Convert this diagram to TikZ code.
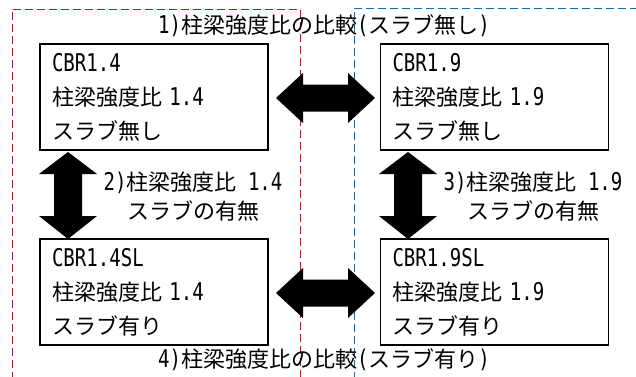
\documentclass[tikz,border=0pt]{standalone}
\usepackage{fontspec}
\setmainfont{Noto Sans CJK JP}
\newfontfamily\hwfont[Scale=1.11,FakeStretch=0.78]{DejaVu Sans Mono}
\newcommand{\hw}[1]{{\hwfont #1}}
\begin{document}
\begin{tikzpicture}[x=1pt,y=-1pt,
  box/.style={draw=black,line width=1.6pt,minimum width=228pt,minimum height=106pt,
    text width=204pt,inner xsep=12pt,inner ysep=0pt,align=left,
    font=\fontsize{22}{34}\selectfont},
  lbl/.style={align=center,inner sep=0pt,font=\fontsize{22}{29}\selectfont},
  blockarrow/.style={fill=black,draw=none},
  reddash/.style={draw={rgb,255:red,230;green,0;blue,18},line width=0.9pt,dash pattern=on 8pt off 4pt},
  bluedash/.style={draw={rgb,255:red,0;green,112;blue,192},line width=0.9pt,dash pattern=on 8pt off 4pt}]
\useasboundingbox (0,0) rectangle (636,376);
% dashed group frames
\draw[reddash] (12,380) -- (12,9) -- (300,9) -- (300,380);
\draw[bluedash] (354,380) -- (354,8) -- (640,8);
% boxes
\node[box] (tl) at (154,97) {\hw{CBR1.4}\\柱梁強度比\hw{ 1.4}\\スラブ無し};
\node[box] (tr) at (494.5,97) {\hw{CBR1.9}\\柱梁強度比\hw{ 1.9}\\スラブ無し};
\node[box] (bl) at (154,292) {\hw{CBR1.4SL}\\柱梁強度比\hw{ 1.4}\\スラブ有り};
\node[box] (br) at (494.5,292) {\hw{CBR1.9SL}\\柱梁強度比\hw{ 1.9}\\スラブ有り};
% block arrows
\fill[blockarrow] (276,98) -- (303,73) -- (303,84.5) -- (348,84.5) -- (348,73) -- (375,98)
  -- (348,123) -- (348,111.5) -- (303,111.5) -- (303,123) -- cycle;
\fill[blockarrow] (276,293) -- (303,268) -- (303,279.5) -- (348,279.5) -- (348,268) -- (375,293)
  -- (348,318) -- (348,306.5) -- (303,306.5) -- (303,318) -- cycle;
\fill[blockarrow] (68,152) -- (97,174) -- (82,174) -- (82,216) -- (97,216) -- (68,239)
  -- (39,216) -- (54,216) -- (54,174) -- (39,174) -- cycle;
\fill[blockarrow] (408,152) -- (437,174) -- (422,174) -- (422,216) -- (437,216) -- (408,239)
  -- (379,216) -- (394,216) -- (394,174) -- (379,174) -- cycle;
% labels
\node[lbl] (t1) at (324,26) {\hw{1)}柱梁強度比の比較\hw{(}スラブ無し\hw{)}};
\node[lbl] (t4) at (324,360) {\hw{4)}柱梁強度比の比較\hw{(}スラブ有り\hw{)}};
\node[lbl] (t2) at (193,197) {\hw{2)}柱梁強度比\hw{ 1.4}\\スラブの有無};
\node[lbl] (t3) at (533,197) {\hw{3)}柱梁強度比\hw{ 1.9}\\スラブの有無};
\end{tikzpicture}
\end{document}
